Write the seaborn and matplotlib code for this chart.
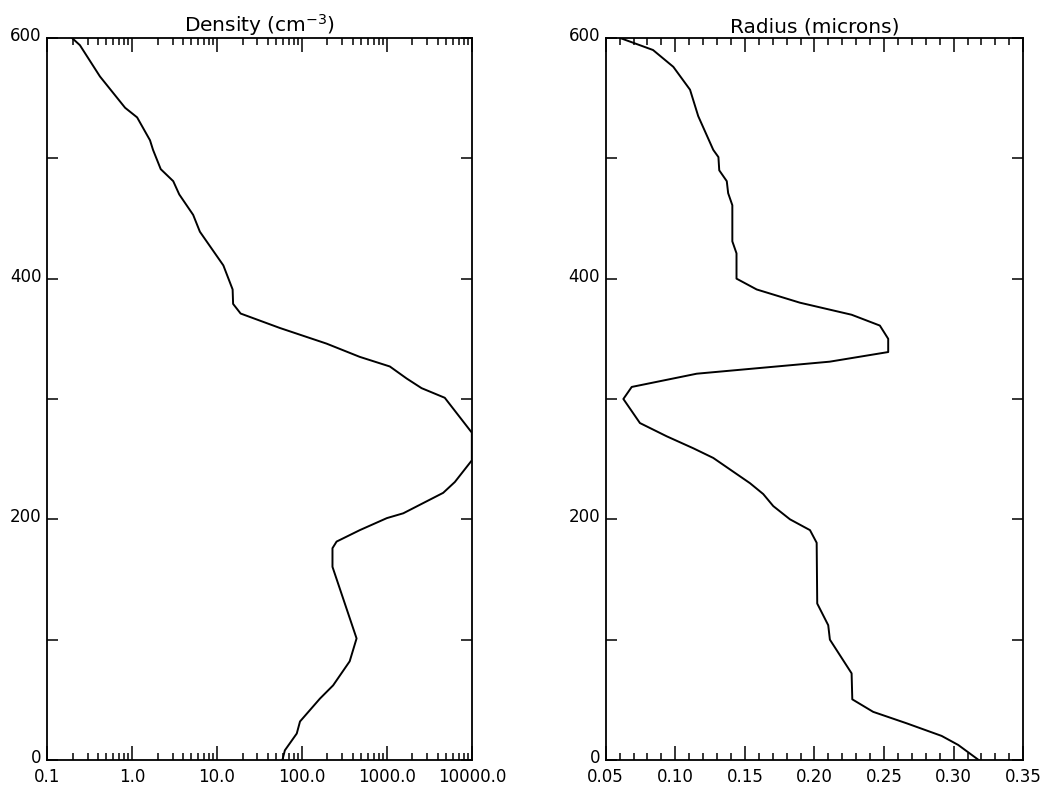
import matplotlib
matplotlib.use("Agg")
import matplotlib.pyplot as plt
import matplotlib.ticker as mticker
import matplotlib.transforms as mtransforms
import seaborn as sns
import pandas as pd

# altitude profiles
density_alt = [600, 594, 568, 542, 534, 515, 507, 491, 481, 470, 453, 439, 411, 391, 379,
               371, 359, 346, 335, 327, 317, 309, 301, 272, 249, 231, 222, 205, 201, 191,
               181.5, 176, 160.5, 101, 82, 62, 51, 32, 22, 8, 0]
density = [0.197, 0.244, 0.42, 0.83, 1.15, 1.63, 1.77, 2.18, 3.06, 3.6, 5.25, 6.3, 11.9, 15.3, 15.5,
           19, 55, 195, 479, 1084, 1710, 2560, 4800, 10000, 10000, 6310, 4600, 1560, 1000, 480,
           256, 229, 229, 440, 365, 233, 163, 95, 87, 63, 59]

radius_alt = [600, 590, 576, 557, 535, 507, 501, 490, 481, 471, 461, 431, 421, 400, 391,
              380, 370, 361, 350, 339, 331, 321, 310, 300, 280, 269, 259, 251, 230, 221,
              211, 200, 191, 180.5, 130, 112, 100, 72, 50.4, 40, 30.5, 20, 12.5, 0]
radius = [0.0603, 0.084, 0.0986, 0.1106, 0.1165, 0.1273, 0.131, 0.1316, 0.137, 0.138, 0.141, 0.141,
          0.144, 0.144, 0.1585, 0.1896, 0.2267, 0.247, 0.253, 0.253, 0.211, 0.1154, 0.0687, 0.0627,
          0.0746, 0.0938, 0.113, 0.1273, 0.1537, 0.1632, 0.1704, 0.1824, 0.1968, 0.2016, 0.202,
          0.2099, 0.2111, 0.2267, 0.2272, 0.2422, 0.2662, 0.2914, 0.3033, 0.318]

density_ticks = [0.1, 1.0, 10.0, 100.0, 1000.0, 10000.0]
density_labels = ["0.1", "1.0", "10.0", "100.0", "1000.0", "10000.0"]
radius_ticks = [0.05, 0.10, 0.15, 0.20, 0.25, 0.30, 0.35]
radius_labels = ["0.05", "0.10", "0.15", "0.20", "0.25", "0.30", "0.35"]
alt_ticks = [0, 200, 400, 600]

sns.set_style("white")
plt.rcParams["font.family"] = ["DejaVu Sans"]
plt.rcParams["text.color"] = "black"

df_d = pd.DataFrame({"alt": density_alt, "val": density})
df_r = pd.DataFrame({"alt": radius_alt, "val": radius})

fig = plt.figure(figsize=(10.49, 7.86), dpi=100)
ax1 = fig.add_axes([0.0448, 0.0331, 0.405, 0.9186])
ax2 = fig.add_axes([0.5774, 0.0331, 0.398, 0.9186])

sns.lineplot(data=df_d, x="val", y="alt", sort=False, estimator=None, color="black",
             linewidth=1.4, ax=ax1)
sns.lineplot(data=df_r, x="val", y="alt", sort=False, estimator=None, color="black",
             linewidth=1.4, ax=ax2)

ax1.set_xscale("log")
ax1.set_xlim(0.1, 10000)
ax1.set_xticks(density_ticks)
ax1.set_xticklabels(density_labels)
ax1.xaxis.set_minor_locator(mticker.LogLocator(base=10, subs=[2, 3, 4, 5, 6, 7, 8, 9], numticks=20))
ax1.xaxis.set_minor_formatter(mticker.NullFormatter())
ax1.set_title("Density (cm$^{-3}$)", fontsize=14.5, pad=4, color="black")

ax2.set_xlim(0.05, 0.35)
ax2.set_xticks(radius_ticks)
ax2.set_xticklabels(radius_labels)
ax2.xaxis.set_minor_locator(mticker.MultipleLocator(0.01))
ax2.set_title("Radius (microns)", fontsize=14.5, pad=4, color="black")

# nudge altitude labels up a few pixels, like the original
shift_up = mtransforms.ScaledTranslation(0, 4 / 100, fig.dpi_scale_trans)

for ax in (ax1, ax2):
    ax.set_ylim(0, 600)
    ax.set_yticks(alt_ticks)
    ax.set_yticklabels([str(t) for t in alt_ticks])
    ax.yaxis.set_minor_locator(mticker.MultipleLocator(100))
    ax.set_xlabel("")
    ax.set_ylabel("")
    for sp in ax.spines.values():
        sp.set_visible(True)
        sp.set_color("black")
        sp.set_linewidth(1.3)
    ax.tick_params(axis="both", which="both", direction="in", bottom=True, left=True,
                   top=True, right=True, colors="black", labelsize=12, width=1.1)
    ax.tick_params(axis="x", which="major", length=10, pad=6)
    ax.tick_params(axis="x", which="minor", length=5)
    ax.tick_params(axis="y", which="both", length=8, pad=4)
    for lab in ax.get_yticklabels():
        lab.set_transform(lab.get_transform() + shift_up)

fig.savefig("out.png", dpi=100)
